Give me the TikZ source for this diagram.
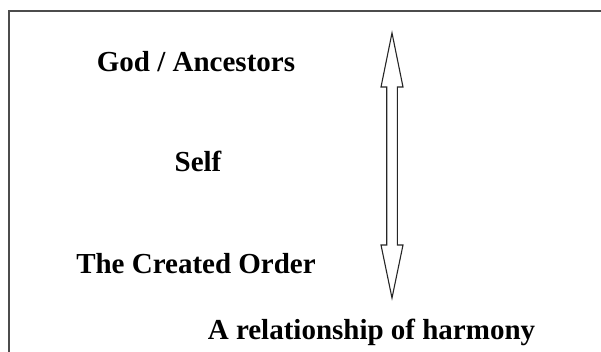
\documentclass[tikz,border=0pt]{standalone}
\usepackage{fontspec}
\setmainfont{Liberation Serif}
\usepackage{tikz}
\usetikzlibrary{calc,positioning}

\begin{document}
\begin{tikzpicture}[x=1pt, y=1pt]
\tikzstyle{lvl}=[anchor=base, inner sep=0pt, font=\fontsize{29}{34}\selectfont\bfseries]
\tikzstyle{frm}=[draw=black!70, line width=1.3pt]
\tikzstyle{arr}=[draw=black!85, line width=1.1pt, line join=miter, fill=white]
\useasboundingbox (0,0) rectangle (601,352);
% frame, only left and top edges show
\draw[frm] (9,0) |- (601,341);
% the three levels
\node[lvl] (god) at (196,280.3) {God / Ancestors};
\node[lvl] (self) at (198,180.3) {Self};
\node[lvl] (order) at (196,78.7) {The Created Order};
\node[lvl] (harm) at (371.5,12) {A relationship of harmony};
% two headed arrow
\coordinate (up) at (392,319);
\coordinate (dn) at (392,54);
\path[arr] (up) -- ($(up)+(11,-54)$) -- ($(up)+(5.3,-54)$)
  -- ($(dn)+(5.3,53)$) -- ($(dn)+(11,53)$) -- (dn)
  -- ($(dn)+(-11,53)$) -- ($(dn)+(-5.3,53)$)
  -- ($(up)+(-5.3,-54)$) -- ($(up)+(-11,-54)$) -- cycle;
\end{tikzpicture}
\end{document}
